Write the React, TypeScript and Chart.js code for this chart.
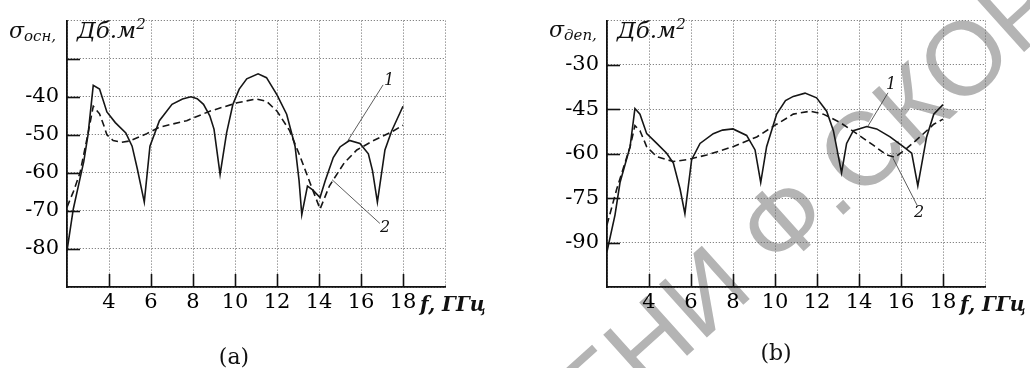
import React, { useEffect, useRef } from "react";
import { Chart, registerables } from "chart.js";
Chart.register(...registerables);

// ---------- Panel (a): σ_осн ----------
const freqA1 = [2.0, 2.3, 2.6, 2.8, 3.0, 3.25, 3.55, 3.9, 4.3, 4.8, 5.1, 5.35, 5.68, 5.95, 6.4, 7.0, 7.5, 7.9, 8.2, 8.5, 8.8, 9.0, 9.29, 9.6, 9.9, 10.2, 10.56, 11.1, 11.5, 12.0, 12.46, 12.86, 13.05, 13.18, 13.45, 13.7, 14.05, 14.3, 14.68, 15.0, 15.45, 15.95, 16.35, 16.55, 16.78, 17.14, 17.46, 18.0];
const sigmaA1 = [-80.5, -69.5, -62, -57, -50, -37, -38, -44, -46.8, -49.5, -53, -59, -67.7, -53, -46.3, -42, -40.6, -40, -40.5, -42, -45, -48.5, -60.4, -49.5, -42, -38, -35.3, -34, -35, -39.5, -44.6, -53, -62, -71, -63.5, -64.5, -66.5, -62, -56, -53.2, -51.5, -52.3, -55, -59.5, -67.7, -54, -49, -42.5];
const freqA2 = [2.0, 2.3, 2.62, 3.0, 3.25, 3.55, 3.75, 3.9, 4.2, 4.6, 5.0, 5.8, 6.4, 7.7, 8.8, 10.1, 11.0, 11.5, 12.0, 12.6, 13.1, 13.57, 14.05, 14.5, 15.2, 15.8, 16.6, 17.45, 18.0];
const sigmaA2 = [-69, -65, -60, -49.7, -42.5, -44.5, -47.5, -50, -51.5, -52, -51.6, -49.7, -48, -46.3, -43.8, -41.6, -40.6, -41.2, -43.8, -48.9, -55.7, -62.6, -69.5, -63.4, -57.4, -54, -51.5, -49.3, -47.5];
const yLabelsA = [-80, -70, -60, -50, -40];
const yInnerTicksA = [-80, -70, -60, -50, -40, -30];
const leaderA1F = [17.05, 15.38];
const leaderA1S = [-36.9, -51.5];
const leaderA2F = [14.62, 16.9];
const leaderA2S = [-61.8, -73.3];

// ---------- Panel (b): σ_деп ----------
const freqB1 = [2.0, 2.38, 2.62, 3.1, 3.33, 3.57, 3.89, 4.37, 4.84, 5.16, 5.48, 5.71, 6.03, 6.43, 7.06, 7.5, 8.0, 8.65, 9.05, 9.32, 9.6, 10.08, 10.5, 10.87, 11.43, 11.98, 12.46, 12.78, 13.17, 13.41, 13.73, 14.37, 14.84, 15.48, 16.11, 16.51, 16.8, 17.22, 17.56, 18.0];
const sigmaB1 = [-93, -80.7, -69.7, -57.6, -44.7, -46.6, -53.2, -56.5, -59.8, -63.1, -71.9, -80.2, -62, -56.5, -53.2, -52, -51.6, -53.8, -58.7, -69.7, -57.6, -46.6, -42, -40.6, -39.5, -41.1, -45.6, -52.2, -66.4, -56.5, -52.2, -50.8, -51.6, -54.3, -57.6, -59.8, -70.8, -54.3, -46.6, -43.4];
const freqB2 = [2.0, 2.46, 3.1, 3.33, 3.57, 3.89, 4.37, 5.16, 5.8, 6.75, 8.0, 9.13, 10.08, 10.87, 11.67, 12.3, 13.1, 13.89, 14.68, 15.32, 15.71, 16.27, 16.9, 17.56, 18.0];
const sigmaB2 = [-84, -72, -57.6, -50.5, -52.2, -57.6, -61, -62.6, -62, -60.4, -57.6, -54.3, -50, -46.6, -45.6, -46.6, -49.4, -53.2, -57.1, -60.4, -61.2, -58.2, -54.3, -50, -48.3];
const yLabelsB = [-90, -75, -60, -45, -30];
const yInnerTicksB = [-90, -75, -60, -45, -30];
const leaderB1F = [15.38, 14.43];
const leaderB1S = [-39.4, -50.6];
const leaderB2F = [15.62, 16.76];
const leaderB2S = [-61.5, -77.3];

const xLabels = [4, 6, 8, 10, 12, 14, 16, 18];

const zip = (xs: number[], ys: number[]) => xs.map((x, i) => ({ x, y: ys[i] }));

const innerTicks = {
  id: "innerTicks",
  afterDatasetsDraw(chart: any, _args: any, opts: any) {
    const { ctx, chartArea, scales } = chart;
    ctx.save();
    ctx.strokeStyle = "#111";
    ctx.lineWidth = 1.6;
    (opts.y || []).forEach((v: number) => {
      const py = Math.round(scales.y.getPixelForValue(v)) + 0.5;
      ctx.beginPath();
      ctx.moveTo(chartArea.left, py);
      ctx.lineTo(chartArea.left + 13, py);
      ctx.stroke();
    });
    (opts.x || []).forEach((v: number) => {
      const px = Math.round(scales.x.getPixelForValue(v)) + 0.5;
      ctx.beginPath();
      ctx.moveTo(px, chartArea.bottom);
      ctx.lineTo(px, chartArea.bottom - 13);
      ctx.stroke();
    });
    ctx.restore();
  },
};

type PanelDef = {
  s1: { x: number; y: number }[];
  s2: { x: number; y: number }[];
  l1: { x: number; y: number }[];
  l2: { x: number; y: number }[];
  yMin: number;
  yMax: number;
  yStep: number;
  yLabels: number[];
  yInner: number[];
  axisWidth: number;
  padRight: number;
};

function makeConfig(p: PanelDef): any {
  const tickFont = { family: "'DejaVu Serif'", size: 21 };
  return {
    type: "line",
    data: {
      datasets: [
        { data: p.s1, borderColor: "#161616", borderWidth: 1.6, pointRadius: 0, tension: 0, fill: false },
        { data: p.s2, borderColor: "#161616", borderWidth: 1.6, borderDash: [7, 4], pointRadius: 0, tension: 0, fill: false },
        { data: p.l1, borderColor: "#333", borderWidth: 0.8, pointRadius: 0, tension: 0, fill: false },
        { data: p.l2, borderColor: "#333", borderWidth: 0.8, pointRadius: 0, tension: 0, fill: false },
      ],
    },
    options: {
      responsive: false,
      animation: false,
      events: [],
      layout: { padding: { left: 0, right: p.padRight, top: 14, bottom: 0 } },
      plugins: {
        legend: { display: false },
        tooltip: { enabled: false },
        innerTicks: { x: xLabels, y: p.yInner },
      },
      scales: {
        x: {
          type: "linear",
          min: 2,
          max: 20,
          afterFit: (s: any) => { s.height = 81; },
          ticks: {
            stepSize: 2,
            autoSkip: false,
            maxRotation: 0,
            padding: 3,
            color: "#000",
            font: tickFont,
            callback: (v: number) => (xLabels.includes(v) ? String(v) : ""),
          },
          grid: { color: "#666", lineWidth: 1, drawTicks: false },
          border: { display: true, color: "#111", width: 1.8, dash: [1, 2] },
        },
        y: {
          type: "linear",
          min: p.yMin,
          max: p.yMax,
          afterFit: (s: any) => { s.width = p.axisWidth; },
          ticks: {
            stepSize: p.yStep,
            autoSkip: false,
            padding: 8,
            color: "#000",
            font: tickFont,
            callback: (v: number) => (p.yLabels.includes(v) ? String(v) : ""),
          },
          grid: { color: "#666", lineWidth: 1, drawTicks: false },
          border: { display: true, color: "#111", width: 1.8, dash: [1, 2] },
        },
      },
    },
    plugins: [innerTicks],
  };
}

function Panel({ def, left }: { def: PanelDef; left: number }) {
  const ref = useRef<HTMLCanvasElement | null>(null);
  useEffect(() => {
    if (!ref.current) return;
    const chart = new Chart(ref.current, makeConfig(def));
    return () => chart.destroy();
  }, []);
  return (
    <canvas
      ref={ref}
      width={515}
      height={368}
      style={{ position: "absolute", left, top: 0, width: 515, height: 368, zIndex: 1 }}
    />
  );
}

const serif = "'DejaVu Serif', serif";

function Txt({ x, y, size, italic, bold, children, center }: any) {
  return (
    <div
      style={{
        position: "absolute",
        left: x,
        top: y,
        fontFamily: serif,
        fontSize: size,
        fontStyle: italic ? "italic" : "normal",
        fontWeight: bold ? "bold" : "normal",
        lineHeight: 1,
        whiteSpace: "nowrap",
        color: "#111",
        transform: center ? "translate(-50%, -50%)" : undefined,
        zIndex: 2,
      }}
    >
      {children}
    </div>
  );
}

function SigmaLabel({ x, y, sub }: { x: number; y: number; sub: string }) {
  return (
    <Txt x={x} y={y} size={22} italic>
      σ<span style={{ fontSize: 15, position: "relative", top: 3 }}>{sub},</span>
    </Txt>
  );
}

function Unit({ x, y }: { x: number; y: number }) {
  return (
    <Txt x={x} y={y} size={23} italic>
      Дб.м<span style={{ fontSize: 15, position: "relative", top: -9 }}>2</span>
    </Txt>
  );
}

export default function App() {
  const panelA: PanelDef = {
    s1: zip(freqA1, sigmaA1),
    s2: zip(freqA2, sigmaA2),
    l1: zip(leaderA1F, leaderA1S),
    l2: zip(leaderA2F, leaderA2S),
    yMin: -90,
    yMax: -20,
    yStep: 10,
    yLabels: yLabelsA,
    yInner: yInnerTicksA,
    axisWidth: 67,
    padRight: 70,
  };
  const panelB: PanelDef = {
    s1: zip(freqB1, sigmaB1),
    s2: zip(freqB2, sigmaB2),
    l1: zip(leaderB1F, leaderB1S),
    l2: zip(leaderB2F, leaderB2S),
    yMin: -105,
    yMax: -15,
    yStep: 15,
    yLabels: yLabelsB,
    yInner: yInnerTicksB,
    axisWidth: 92,
    padRight: 45,
  };
  const wmFont: React.CSSProperties = {
    position: "absolute",
    bottom: 0,
    fontFamily: "'Liberation Sans', sans-serif",
    fontSize: 104,
    lineHeight: 1,
    color: "#b4b4b4",
    whiteSpace: "nowrap",
  };
  return (
    <div style={{ position: "absolute", left: 0, top: 0, width: 1030, height: 368, overflow: "hidden", background: "#fff" }}>
      <div style={{ position: "absolute", left: 847, top: 233, width: 0, height: 0, transform: "rotate(-42deg)", transformOrigin: "0 0", zIndex: 0 }}>
        <span style={{ ...wmFont, right: 0 }}>РЕПОЗИТОРИЙ ГГУ ИМЕНИ Ф</span>
        <span style={{ ...wmFont, left: 0 }}>.СКОРИНЫ</span>
      </div>
      <Panel def={panelA} left={0} />
      <Panel def={panelB} left={515} />

      <SigmaLabel x={9} y={20} sub="осн" />
      <Unit x={77} y={19} />
      <Txt x={420} y={294} size={20} italic bold>f, ГГц</Txt>
      <Txt x={234} y={357} size={22} center>(a)</Txt>
      <Txt x={389} y={80} size={16} italic center>1</Txt>
      <Txt x={385} y={227} size={16} italic center>2</Txt>

      <SigmaLabel x={549} y={19} sub="деп" />
      <Unit x={617} y={19} />
      <Txt x={960} y={294} size={20} italic bold>f, ГГц</Txt>
      <Txt x={776} y={353} size={22} center>(b)</Txt>
      <Txt x={891} y={84} size={16} italic center>1</Txt>
      <Txt x={919} y={212} size={16} italic center>2</Txt>
    </div>
  );
}
